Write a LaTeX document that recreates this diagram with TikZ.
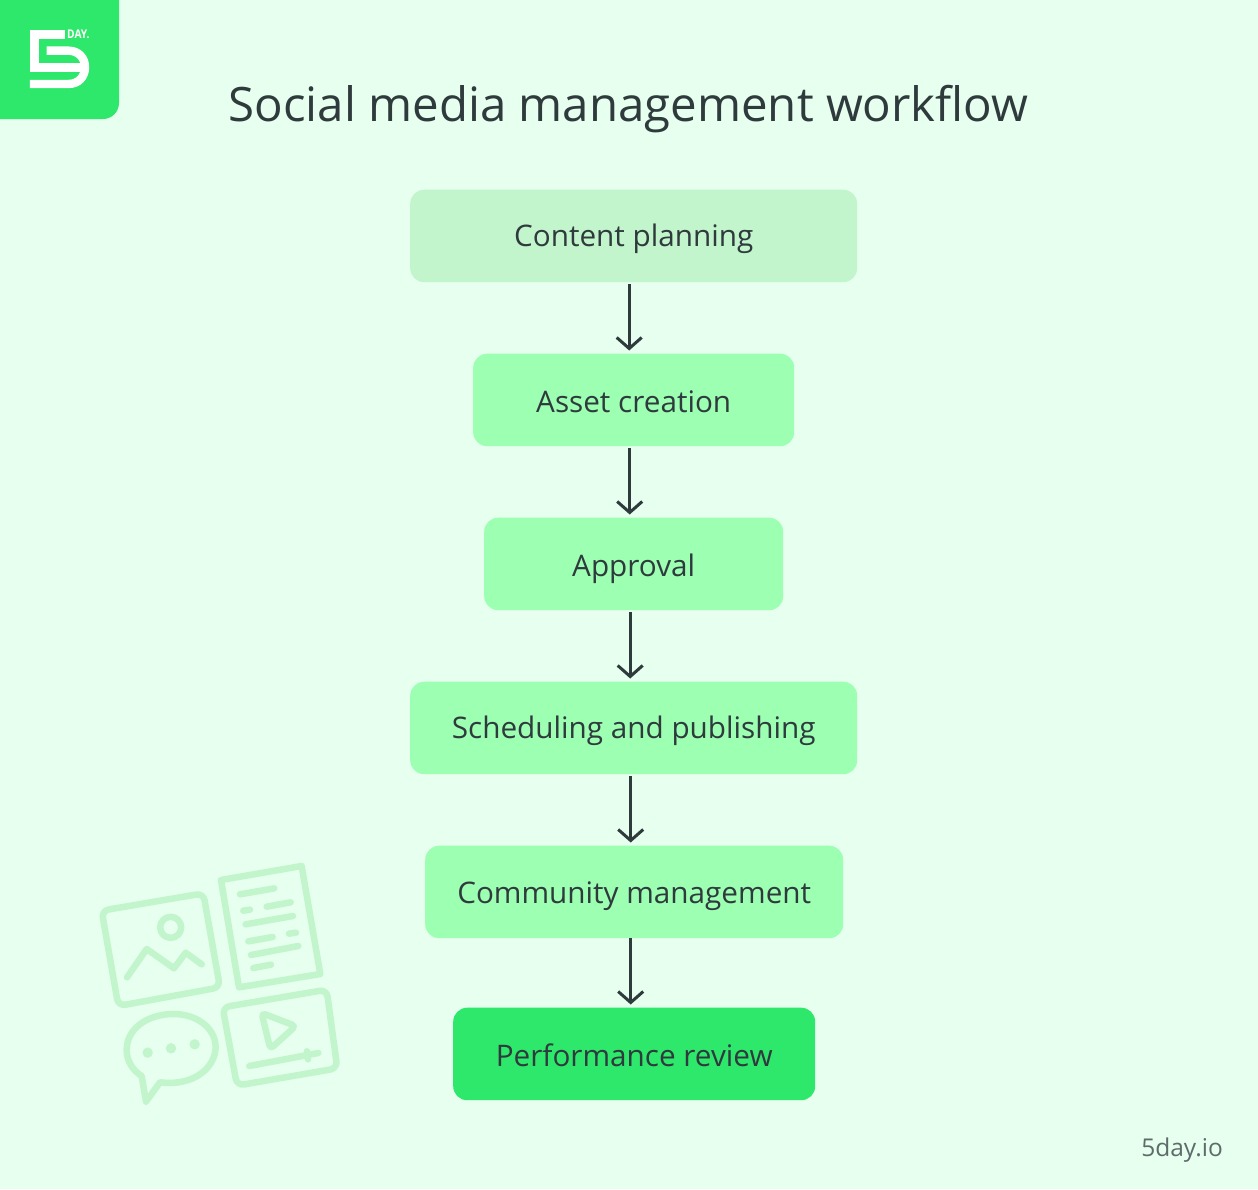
\documentclass[tikz,border=0pt]{standalone}
\usepackage{fontspec}
\setmainfont{Open Sans}
\usetikzlibrary{arrows.meta,calc}
\definecolor{bgc}{HTML}{E6FFEE}
\definecolor{brand}{HTML}{2EE86B}
\definecolor{pale}{HTML}{C3F5CD}
\definecolor{mint}{HTML}{9CFFB2}
\definecolor{ink}{HTML}{2F3A3D}
\definecolor{grayink}{HTML}{5F6B6B}
\tikzset{
  stepbox/.style={rounded corners=14pt,inner sep=0pt,minimum height=92.5pt,text=ink,
    font=\fontsize{29.7}{36}\selectfont,text depth=8pt,anchor=north west},
  flowarrow/.style={draw=ink,line width=3pt,-{Straight Barb[length=11pt,width=25pt,line width=3pt]},shorten <=2pt,shorten >=3pt},
  iconline/.style={draw=pale,line width=6.5pt,line cap=round,line join=round},
  icondot/.style={fill=pale,draw=none},
  logoline/.style={draw=white,line width=8.4pt}
}
\begin{document}
\begin{tikzpicture}[x=1pt,y=-1pt]
\useasboundingbox (0,0) rectangle (1258,1189);
\fill[bgc] (0,0) rectangle (1258,1189);
% logo tile
\fill[brand] (0,0) -- (119,0) [rounded corners=16pt] -- (119,119) [sharp corners] -- (0,119) -- cycle;
\begin{scope}[x=0.3333pt,y=-0.3333pt]
\draw[logoline] (195,103) -- (104,103) -- (104,202) -- (245,202);
\draw[logoline] (140,152) -- (205,152) .. controls (236,152) and (255,174) .. (255,202) .. controls (255,230) and (236,252) .. (205,252) -- (90,252);
\end{scope}
\node[text=white,font=\fontsize{12}{14}\bfseries\selectfont,inner sep=0pt,anchor=base west,transform shape,xscale=0.85] (daylabel) at (67,38.5) {DAY.};
% title
\node[text=ink,font=\fontsize{47.4}{56}\selectfont,inner sep=0pt,anchor=base] (title) at (628.5,121) {Social media management workflow};
% boxes
\node[stepbox,fill=pale,minimum width=447pt,text height=29pt] (a) at (410,189.5) {Content planning};
\node[stepbox,fill=mint,minimum width=321pt,text height=34pt] (b) at (473,353.5) {Asset creation};
\node[stepbox,fill=mint,minimum width=299pt,text height=33pt] (c) at (484,517.5) {Approval};
\node[stepbox,fill=mint,minimum width=447pt,text height=30pt] (d) at (410,681.5) {Scheduling and publishing};
\node[stepbox,fill=mint,minimum width=418pt,text height=32pt] (e) at (425,845.5) {Community management};
\node[stepbox,fill=brand,minimum width=362pt,text height=33pt] (f) at (453,1007.5) {Performance review};
% arrows
\draw[flowarrow] ([xshift=-4.5pt]a.south) -- ([xshift=-4.5pt]b.north);
\draw[flowarrow] ([xshift=-4pt]b.south) -- ([xshift=-4pt]c.north);
\draw[flowarrow] ([xshift=-3.5pt]c.south) -- ([xshift=-3.5pt]d.north);
\draw[flowarrow] ([xshift=-3pt]d.south) -- ([xshift=-3.5pt]e.north);
\draw[flowarrow,shorten <=0pt] ([xshift=-3.5pt]e.south) -- ([xshift=-3.5pt]f.north);
% footer
\node[text=grayink,font=\fontsize{24.5}{30}\selectfont,inner sep=0pt,anchor=base east] (site) at (1223,1156) {5day.io};
% decorative icons
\begin{scope}[shift={(85,850)},x=0.3333pt,y=-0.3333pt]
\draw[iconline,rounded corners=7pt] (50,182) -- (355,130) -- (405,412) -- (100,468) -- cycle;
\draw[iconline] (257,232) circle[radius=10.5pt];
\draw[iconline] (126,382) -- (185,297) -- (267,355) -- (302,308) -- (350,343);
\draw[iconline] (408,90) -- (650,48) -- (706,372) -- (462,412) -- cycle;
\draw[iconline] (465,133) -- (568,115);
\draw[iconline] (475,182) -- (495,179);
\draw[iconline] (545,170) -- (617,157);
\draw[iconline] (482,223) -- (624,198);
\draw[iconline] (490,274) -- (563,261);
\draw[iconline] (612,251) -- (633,248);
\draw[iconline] (498,315) -- (640,288);
\draw[iconline] (505,354) -- (558,344);
\draw[iconline] (225,697) .. controls (330,710) and (392,650) .. (392,590) .. controls (390,530) and (330,490) .. (260,492) .. controls (180,495) and (125,540) .. (125,600) .. controls (125,635) and (145,662) .. (170,678) -- (183,755) -- cycle;
\fill[icondot] (188,608) circle[radius=5.2pt];
\fill[icondot] (258,595) circle[radius=5.2pt];
\fill[icondot] (329,583) circle[radius=5.2pt];
\draw[iconline,rounded corners=7pt] (413,472) -- (725,419) -- (757,655) -- (456,707) -- cycle;
\draw[iconline,rounded corners=4pt] (530,489) -- (632,528) -- (556,597) -- cycle;
\draw[iconline] (493,648) -- (700,609);
\draw[iconline] (666,604) -- (669,628);
\end{scope}
\end{tikzpicture}
\end{document}
